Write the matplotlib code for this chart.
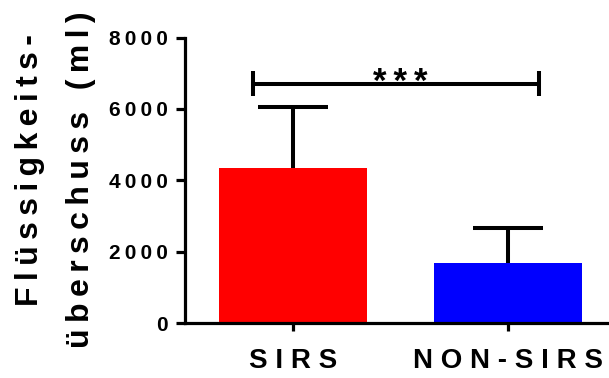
import numpy as np
import matplotlib
matplotlib.use('Agg')
import matplotlib.pyplot as plt

plt.rcParams['font.family'] = ['Liberation Sans', 'DejaVu Sans']
plt.rcParams['font.weight'] = 'bold'

# data
groups = ['SIRS', 'NON-SIRS']
means = [4350, 1690]
errs_up = [1715, 970]
colors = ['#ff0000', '#0000ff']
yticks = [0, 2000, 4000, 6000, 8000]
sig_label = '***'
sig_level = 6710


def spaced(s, sep=' '):
    # the original uses wide letter spacing
    return sep.join(s)


fig = plt.figure(figsize=(6.09, 3.78), dpi=100)
ax = fig.add_axes([185 / 609, 1 - 323.3 / 378, 1 - 185 / 609, (323.3 - 37.5) / 378])

x = np.arange(len(groups))
ax.bar(x, means, width=0.687, color=colors, edgecolor='none', zorder=2)
eb = ax.errorbar(x, means, yerr=[np.zeros(len(means)), errs_up], fmt='none',
                 ecolor='black', elinewidth=2.9, capsize=25.5, capthick=2.9,
                 zorder=3)
# only the upper cap is shown
eb[1][0].set_visible(False)

# significance bracket
x0, x1 = -0.186, 1.144
ax.plot([x0, x1], [sig_level, sig_level], color='black', lw=2.9, zorder=3,
        solid_capstyle='butt')
for xe in (x0, x1):
    ax.plot([xe, xe], [sig_level - 340, sig_level + 340], color='black', lw=2.9,
            zorder=3, solid_capstyle='butt')
ax.text((x0 + x1) / 2 + 0.02, 6470, spaced(sig_label, '\u2009'), ha='center',
        va='baseline', fontsize=25, fontweight='bold')

ax.set_xlim(-0.5, 1.469)
ax.set_ylim(0, 8000)
ax.set_yticks(yticks)
ax.set_yticklabels([spaced(str(v), '\u2009') for v in yticks], fontsize=15,
                   fontweight='bold')
ax.set_xticks(x)
ax.set_xticklabels([spaced(g) for g in groups], fontsize=20, fontweight='bold')

for side in ('top', 'right'):
    ax.spines[side].set_visible(False)
for side in ('left', 'bottom'):
    ax.spines[side].set_linewidth(2.3)
    ax.spines[side].set_capstyle('projecting')
ax.tick_params(axis='y', length=6.5, width=2.3, pad=6)
ax.tick_params(axis='x', length=6, width=2.3, pad=12)

# two-line y label
fig.text(38 / 609, 1 - 170 / 378, spaced('Flüssigkeits-', '\u2009'), rotation=90,
         rotation_mode='anchor', ha='center', va='baseline', fontsize=23,
         fontweight='bold')
fig.text(89.5 / 609, 1 - 180 / 378, spaced('überschuss (ml)', '\u2009'),
         rotation=90, rotation_mode='anchor', ha='center', va='baseline',
         fontsize=23, fontweight='bold')

fig.savefig('out.png', dpi=100)
